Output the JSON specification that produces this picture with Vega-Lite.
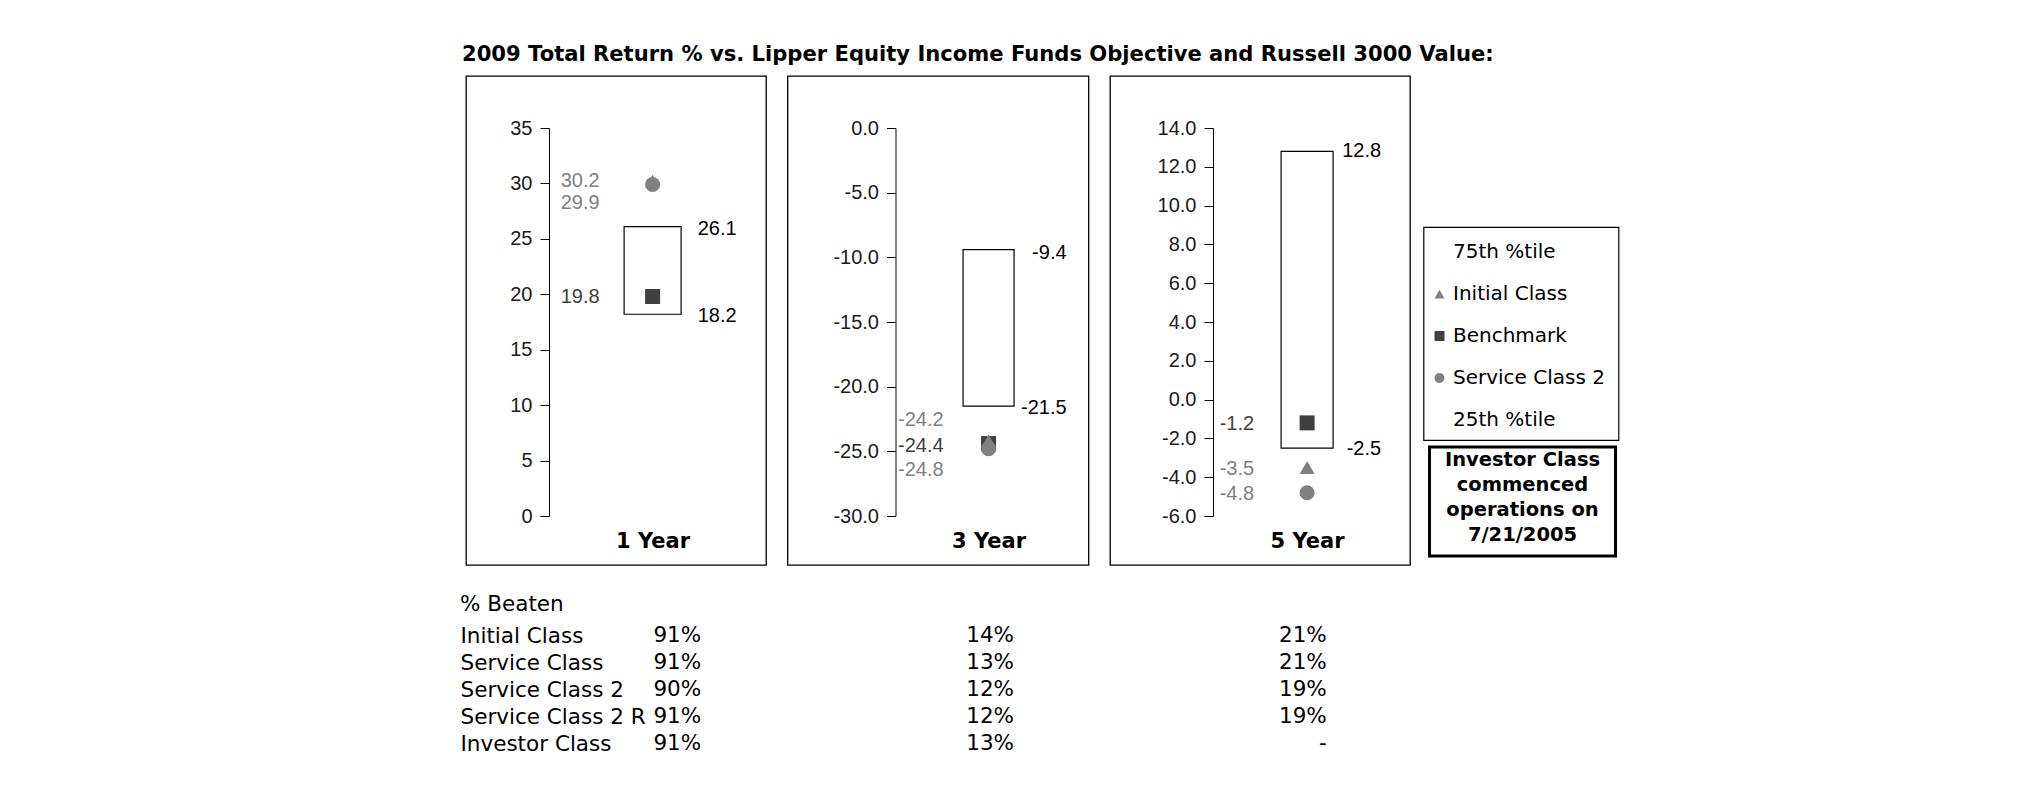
{
  "$schema": "https://vega.github.io/schema/vega-lite/v6.json",
  "background": "white",
  "padding": {"left": 460, "top": 44, "right": 5, "bottom": 5},
  "title": {
    "text": "2009 Total Return % vs. Lipper Equity Income Funds Objective and Russell 3000 Value:",
    "anchor": "start", "frame": "bounds", "font": "DejaVu Sans", "fontSize": 21.1,
    "fontWeight": "bold", "color": "black", "offset": 10, "dx": 2
  },
  "config": {
    "locale": {"number": {"decimal": ".", "thousands": ",", "grouping": [3], "currency": ["$", ""], "minus": "-"}},
    "view": {"stroke": null},
    "axis": {"domainColor": "black", "tickColor": "black", "grid": false, "labelFont": "Liberation Sans", "labelFontSize": 20, "labelColor": "#1a1a1a", "domainWidth": 1, "tickWidth": 1}
  },
  "datasets": {
    "pts": [
      {"period": "1 Year", "series": "Benchmark", "value": 19.8},
      {"period": "1 Year", "series": "Initial Class", "value": 30.2},
      {"period": "1 Year", "series": "Service Class 2", "value": 29.9},
      {"period": "3 Year", "series": "Benchmark", "value": -24.4},
      {"period": "3 Year", "series": "Initial Class", "value": -24.2},
      {"period": "3 Year", "series": "Service Class 2", "value": -24.8},
      {"period": "5 Year", "series": "Benchmark", "value": -1.2},
      {"period": "5 Year", "series": "Initial Class", "value": -3.5},
      {"period": "5 Year", "series": "Service Class 2", "value": -4.8}
    ],
    "boxes": [
      {"period": "1 Year", "p25": 18.2, "p75": 26.1},
      {"period": "3 Year", "p25": -21.5, "p75": -9.4},
      {"period": "5 Year", "p25": -2.5, "p75": 12.8}
    ],
    "table": [
      {"class": "Initial Class", "period": "1 Year", "pct": "91%"},
      {"class": "Initial Class", "period": "3 Year", "pct": "14%"},
      {"class": "Initial Class", "period": "5 Year", "pct": "21%"},
      {"class": "Service Class", "period": "1 Year", "pct": "91%"},
      {"class": "Service Class", "period": "3 Year", "pct": "13%"},
      {"class": "Service Class", "period": "5 Year", "pct": "21%"},
      {"class": "Service Class 2", "period": "1 Year", "pct": "90%"},
      {"class": "Service Class 2", "period": "3 Year", "pct": "12%"},
      {"class": "Service Class 2", "period": "5 Year", "pct": "19%"},
      {"class": "Service Class 2 R", "period": "1 Year", "pct": "91%"},
      {"class": "Service Class 2 R", "period": "3 Year", "pct": "12%"},
      {"class": "Service Class 2 R", "period": "5 Year", "pct": "19%"},
      {"class": "Investor Class", "period": "1 Year", "pct": "91%"},
      {"class": "Investor Class", "period": "3 Year", "pct": "13%"},
      {"class": "Investor Class", "period": "5 Year", "pct": "-"}
    ],
    "legend": [
      {"entry": "75th %tile"},
      {"entry": "Initial Class"},
      {"entry": "Benchmark"},
      {"entry": "Service Class 2"},
      {"entry": "25th %tile"}
    ]
  },
  "spacing": 27,
  "vconcat": [
    {
      "spacing": 19.5,
      "hconcat": [
        {
          "width": 300, "height": 489,
          "view": {"stroke": "black", "strokeWidth": 1.3},
          "encoding": {
            "x": {"field": "period", "type": "nominal",
              "scale": {"type": "point", "domain": ["1 Year"], "align": 0.622},
              "axis": {"orient": "bottom", "offset": -24, "domain": false, "ticks": false, "labelPadding": 0, "labelBaseline": "middle", "labelAngle": 0, "labelFont": "DejaVu Sans", "labelFontSize": 21, "labelFontWeight": "bold", "labelColor": "black", "title": null}}
          },
          "layer": [
            {
              "data": {"name": "boxes"},
              "transform": [{"filter": "datum.period == '1 Year'"}],
              "mark": {"type": "bar", "width": 57, "fill": "white", "stroke": "black", "strokeWidth": 1.2},
              "encoding": {
                "y": {"field": "p75", "type": "quantitative",
                  "scale": {"domain": [0, 35], "range": [440, 52], "nice": false, "zero": false},
                  "axis": {"orient": "left", "offset": -83, "values": [0, 5, 10, 15, 20, 25, 30, 35], "format": "d", "title": null, "tickSize": 9, "labelPadding": 8}},
                "y2": {"field": "p25"}
              }
            },
            {
              "data": {"name": "pts"},
              "transform": [{"filter": "datum.period == '1 Year'"}],
              "mark": {"type": "point", "filled": true, "opacity": 1, "size": 225},
              "encoding": {
                "y": {"field": "value", "type": "quantitative", "axis": {"orient": "left", "offset": -83, "values": [0, 5, 10, 15, 20, 25, 30, 35], "format": "d", "title": null, "tickSize": 9, "labelPadding": 8}},
                "shape": {"field": "series", "type": "nominal", "scale": {"domain": ["Initial Class", "Benchmark", "Service Class 2"], "range": ["triangle-up", "square", "circle"]}, "legend": null},
                "color": {"field": "series", "type": "nominal", "scale": {"domain": ["Initial Class", "Benchmark", "Service Class 2"], "range": ["#808080", "#3f3f3f", "#808080"]}, "legend": null}
              }
            },
            {
              "data": {"name": "pts"},
              "transform": [{"filter": "datum.period == '1 Year' && datum.series != 'Service Class 2'"}],
              "mark": {"type": "text", "align": "right", "baseline": "middle", "dx": -53, "font": "Liberation Sans", "fontSize": 20},
              "encoding": {
                "y": {"field": "value", "type": "quantitative", "axis": {"orient": "left", "offset": -83, "values": [0, 5, 10, 15, 20, 25, 30, 35], "format": "d", "title": null, "tickSize": 9, "labelPadding": 8}},
                "text": {"field": "value", "type": "quantitative", "format": ".1f"},
                "color": {"field": "series", "type": "nominal", "scale": {"domain": ["Initial Class", "Benchmark", "Service Class 2"], "range": ["#808080", "#3f3f3f", "#808080"]}, "legend": null}
              }
            },
            {
              "data": {"name": "pts"},
              "transform": [{"filter": "datum.period == '1 Year' && datum.series == 'Service Class 2'"}],
              "mark": {"type": "text", "align": "right", "baseline": "middle", "dx": -53, "dy": 18.5, "font": "Liberation Sans", "fontSize": 20},
              "encoding": {
                "y": {"field": "value", "type": "quantitative", "axis": {"orient": "left", "offset": -83, "values": [0, 5, 10, 15, 20, 25, 30, 35], "format": "d", "title": null, "tickSize": 9, "labelPadding": 8}},
                "text": {"field": "value", "type": "quantitative", "format": ".1f"},
                "color": {"field": "series", "type": "nominal", "scale": {"domain": ["Initial Class", "Benchmark", "Service Class 2"], "range": ["#808080", "#3f3f3f", "#808080"]}, "legend": null}
              }
            },
            {
              "data": {"name": "boxes"},
              "transform": [{"filter": "datum.period == '1 Year'"}],
              "mark": {"type": "text", "align": "right", "baseline": "middle", "dx": 84, "dy": 2, "font": "Liberation Sans", "fontSize": 20, "color": "black"},
              "encoding": {
                "y": {"field": "p75", "type": "quantitative", "axis": {"orient": "left", "offset": -83, "values": [0, 5, 10, 15, 20, 25, 30, 35], "format": "d", "title": null, "tickSize": 9, "labelPadding": 8}},
                "text": {"field": "p75", "type": "quantitative", "format": ".1f"}
              }
            },
            {
              "data": {"name": "boxes"},
              "transform": [{"filter": "datum.period == '1 Year'"}],
              "mark": {"type": "text", "align": "right", "baseline": "middle", "dx": 84, "dy": 2, "font": "Liberation Sans", "fontSize": 20, "color": "black"},
              "encoding": {
                "y": {"field": "p25", "type": "quantitative", "axis": {"orient": "left", "offset": -83, "values": [0, 5, 10, 15, 20, 25, 30, 35], "format": "d", "title": null, "tickSize": 9, "labelPadding": 8}},
                "text": {"field": "p25", "type": "quantitative", "format": ".1f"}
              }
            }
          ]
        },
        {
          "width": 301, "height": 489,
          "view": {"stroke": "black", "strokeWidth": 1.3},
          "encoding": {
            "x": {"field": "period", "type": "nominal",
              "scale": {"type": "point", "domain": ["3 Year"], "align": 0.668},
              "axis": {"orient": "bottom", "offset": -24, "domain": false, "ticks": false, "labelPadding": 0, "labelBaseline": "middle", "labelAngle": 0, "labelFont": "DejaVu Sans", "labelFontSize": 21, "labelFontWeight": "bold", "labelColor": "black", "title": null}}
          },
          "layer": [
            {
              "data": {"name": "boxes"},
              "transform": [{"filter": "datum.period == '3 Year'"}],
              "mark": {"type": "bar", "width": 51, "fill": "white", "stroke": "black", "strokeWidth": 1.2},
              "encoding": {
                "y": {"field": "p75", "type": "quantitative",
                  "scale": {"domain": [-30, 0], "range": [440, 52], "nice": false, "zero": false},
                  "axis": {"orient": "left", "offset": -108, "values": [-30, -25, -20, -15, -10, -5, 0], "format": ".1f", "title": null, "tickSize": 9, "labelPadding": 8}},
                "y2": {"field": "p25"}
              }
            },
            {
              "data": {"name": "pts"},
              "transform": [{"filter": "datum.period == '3 Year'"}],
              "mark": {"type": "point", "filled": true, "opacity": 1, "size": 225},
              "encoding": {
                "y": {"field": "value", "type": "quantitative", "axis": {"orient": "left", "offset": -108, "values": [-30, -25, -20, -15, -10, -5, 0], "format": ".1f", "title": null, "tickSize": 9, "labelPadding": 8}},
                "shape": {"field": "series", "type": "nominal", "scale": {"domain": ["Initial Class", "Benchmark", "Service Class 2"], "range": ["triangle-up", "square", "circle"]}, "legend": null},
                "color": {"field": "series", "type": "nominal", "scale": {"domain": ["Initial Class", "Benchmark", "Service Class 2"], "range": ["#808080", "#3f3f3f", "#808080"]}, "legend": null}
              }
            },
            {
              "data": {"name": "pts"},
              "transform": [{"filter": "datum.period == '3 Year' && datum.series == 'Initial Class'"}],
              "mark": {"type": "text", "align": "right", "baseline": "middle", "dx": -45, "dy": -21, "font": "Liberation Sans", "fontSize": 20},
              "encoding": {
                "y": {"field": "value", "type": "quantitative", "axis": {"orient": "left", "offset": -108, "values": [-30, -25, -20, -15, -10, -5, 0], "format": ".1f", "title": null, "tickSize": 9, "labelPadding": 8}},
                "text": {"field": "value", "type": "quantitative", "format": ".1f"},
                "color": {"field": "series", "type": "nominal", "scale": {"domain": ["Initial Class", "Benchmark", "Service Class 2"], "range": ["#808080", "#3f3f3f", "#808080"]}, "legend": null}
              }
            },
            {
              "data": {"name": "pts"},
              "transform": [{"filter": "datum.period == '3 Year' && datum.series == 'Benchmark'"}],
              "mark": {"type": "text", "align": "right", "baseline": "middle", "dx": -45, "dy": 2, "font": "Liberation Sans", "fontSize": 20},
              "encoding": {
                "y": {"field": "value", "type": "quantitative", "axis": {"orient": "left", "offset": -108, "values": [-30, -25, -20, -15, -10, -5, 0], "format": ".1f", "title": null, "tickSize": 9, "labelPadding": 8}},
                "text": {"field": "value", "type": "quantitative", "format": ".1f"},
                "color": {"field": "series", "type": "nominal", "scale": {"domain": ["Initial Class", "Benchmark", "Service Class 2"], "range": ["#808080", "#3f3f3f", "#808080"]}, "legend": null}
              }
            },
            {
              "data": {"name": "pts"},
              "transform": [{"filter": "datum.period == '3 Year' && datum.series == 'Service Class 2'"}],
              "mark": {"type": "text", "align": "right", "baseline": "middle", "dx": -45, "dy": 21.5, "font": "Liberation Sans", "fontSize": 20},
              "encoding": {
                "y": {"field": "value", "type": "quantitative", "axis": {"orient": "left", "offset": -108, "values": [-30, -25, -20, -15, -10, -5, 0], "format": ".1f", "title": null, "tickSize": 9, "labelPadding": 8}},
                "text": {"field": "value", "type": "quantitative", "format": ".1f"},
                "color": {"field": "series", "type": "nominal", "scale": {"domain": ["Initial Class", "Benchmark", "Service Class 2"], "range": ["#808080", "#3f3f3f", "#808080"]}, "legend": null}
              }
            },
            {
              "data": {"name": "boxes"},
              "transform": [{"filter": "datum.period == '3 Year'"}],
              "mark": {"type": "text", "align": "right", "baseline": "middle", "dx": 78, "dy": 3, "font": "Liberation Sans", "fontSize": 20, "color": "black"},
              "encoding": {
                "y": {"field": "p75", "type": "quantitative", "axis": {"orient": "left", "offset": -108, "values": [-30, -25, -20, -15, -10, -5, 0], "format": ".1f", "title": null, "tickSize": 9, "labelPadding": 8}},
                "text": {"field": "p75", "type": "quantitative", "format": ".1f"}
              }
            },
            {
              "data": {"name": "boxes"},
              "transform": [{"filter": "datum.period == '3 Year'"}],
              "mark": {"type": "text", "align": "right", "baseline": "middle", "dx": 78, "dy": 2, "font": "Liberation Sans", "fontSize": 20, "color": "black"},
              "encoding": {
                "y": {"field": "p25", "type": "quantitative", "axis": {"orient": "left", "offset": -108, "values": [-30, -25, -20, -15, -10, -5, 0], "format": ".1f", "title": null, "tickSize": 9, "labelPadding": 8}},
                "text": {"field": "p25", "type": "quantitative", "format": ".1f"}
              }
            }
          ]
        },
        {
          "spacing": 11.5,
          "hconcat": [
            {
              "width": 300, "height": 489,
              "view": {"stroke": "black", "strokeWidth": 1.3},
              "encoding": {
                "x": {"field": "period", "type": "nominal",
                  "scale": {"type": "point", "domain": ["5 Year"], "align": 0.657},
                  "axis": {"orient": "bottom", "offset": -24, "domain": false, "ticks": false, "labelPadding": 0, "labelBaseline": "middle", "labelAngle": 0, "labelFont": "DejaVu Sans", "labelFontSize": 21, "labelFontWeight": "bold", "labelColor": "black", "title": null}}
              },
              "layer": [
                {
                  "data": {"name": "boxes"},
                  "transform": [{"filter": "datum.period == '5 Year'"}],
                  "mark": {"type": "bar", "width": 52, "fill": "white", "stroke": "black", "strokeWidth": 1.2},
                  "encoding": {
                    "y": {"field": "p75", "type": "quantitative",
                      "scale": {"domain": [-6, 14], "range": [440, 52], "nice": false, "zero": false},
                      "axis": {"orient": "left", "offset": -103, "values": [-6, -4, -2, 0, 2, 4, 6, 8, 10, 12, 14], "format": ".1f", "title": null, "tickSize": 9, "labelPadding": 8}},
                    "y2": {"field": "p25"}
                  }
                },
                {
                  "data": {"name": "pts"},
                  "transform": [{"filter": "datum.period == '5 Year'"}],
                  "mark": {"type": "point", "filled": true, "opacity": 1, "size": 225},
                  "encoding": {
                    "y": {"field": "value", "type": "quantitative", "axis": {"orient": "left", "offset": -103, "values": [-6, -4, -2, 0, 2, 4, 6, 8, 10, 12, 14], "format": ".1f", "title": null, "tickSize": 9, "labelPadding": 8}},
                    "shape": {"field": "series", "type": "nominal", "scale": {"domain": ["Initial Class", "Benchmark", "Service Class 2"], "range": ["triangle-up", "square", "circle"]}, "legend": null},
                    "color": {"field": "series", "type": "nominal", "scale": {"domain": ["Initial Class", "Benchmark", "Service Class 2"], "range": ["#808080", "#3f3f3f", "#808080"]}, "legend": null}
                  }
                },
                {
                  "data": {"name": "pts"},
                  "transform": [{"filter": "datum.period == '5 Year'"}],
                  "mark": {"type": "text", "align": "right", "baseline": "middle", "dx": -53, "dy": 1, "font": "Liberation Sans", "fontSize": 20},
                  "encoding": {
                    "y": {"field": "value", "type": "quantitative", "axis": {"orient": "left", "offset": -103, "values": [-6, -4, -2, 0, 2, 4, 6, 8, 10, 12, 14], "format": ".1f", "title": null, "tickSize": 9, "labelPadding": 8}},
                    "text": {"field": "value", "type": "quantitative", "format": ".1f"},
                    "color": {"field": "series", "type": "nominal", "scale": {"domain": ["Initial Class", "Benchmark", "Service Class 2"], "range": ["#808080", "#3f3f3f", "#808080"]}, "legend": null}
                  }
                },
                {
                  "data": {"name": "boxes"},
                  "transform": [{"filter": "datum.period == '5 Year'"}],
                  "mark": {"type": "text", "align": "right", "baseline": "middle", "dx": 74, "dy": 0, "font": "Liberation Sans", "fontSize": 20, "color": "black"},
                  "encoding": {
                    "y": {"field": "p75", "type": "quantitative", "axis": {"orient": "left", "offset": -103, "values": [-6, -4, -2, 0, 2, 4, 6, 8, 10, 12, 14], "format": ".1f", "title": null, "tickSize": 9, "labelPadding": 8}},
                    "text": {"field": "p75", "type": "quantitative", "format": ".1f"}
                  }
                },
                {
                  "data": {"name": "boxes"},
                  "transform": [{"filter": "datum.period == '5 Year'"}],
                  "mark": {"type": "text", "align": "right", "baseline": "middle", "dx": 74, "dy": 1, "font": "Liberation Sans", "fontSize": 20, "color": "black"},
                  "encoding": {
                    "y": {"field": "p25", "type": "quantitative", "axis": {"orient": "left", "offset": -103, "values": [-6, -4, -2, 0, 2, 4, 6, 8, 10, 12, 14], "format": ".1f", "title": null, "tickSize": 9, "labelPadding": 8}},
                    "text": {"field": "p25", "type": "quantitative", "format": ".1f"}
                  }
                }
              ]
            },
            {
              "spacing": 4,
              "vconcat": [
                {
                  "width": 195, "height": 146,
                  "data": {"values": []},
                  "mark": {"type": "point", "opacity": 0}
                },
                {
                  "width": 195, "height": 213,
                  "view": {"stroke": "black", "strokeWidth": 1.2},
                  "data": {"name": "legend"},
                  "encoding": {
                    "y": {"field": "entry", "type": "nominal", "scale": {"type": "point", "domain": ["75th %tile", "Initial Class", "Benchmark", "Service Class 2", "25th %tile"], "padding": 0.54}, "axis": null}
                  },
                  "layer": [
                    {
                      "transform": [{"filter": {"field": "entry", "oneOf": ["Initial Class", "Benchmark", "Service Class 2"]}}],
                      "mark": {"type": "point", "filled": true, "opacity": 1, "size": 100, "xOffset": -81.5, "yOffset": 2.5},
                      "encoding": {
                        "shape": {"field": "entry", "type": "nominal", "scale": {"domain": ["Initial Class", "Benchmark", "Service Class 2"], "range": ["triangle-up", "square", "circle"]}, "legend": null},
                        "color": {"field": "entry", "type": "nominal", "scale": {"domain": ["Initial Class", "Benchmark", "Service Class 2"], "range": ["#808080", "#3f3f3f", "#808080"]}, "legend": null}
                      }
                    },
                    {
                      "mark": {"type": "text", "align": "left", "baseline": "middle", "dx": -68, "dy": 2.5, "font": "DejaVu Sans", "fontSize": 20, "color": "black"},
                      "encoding": {
                        "text": {"field": "entry"}
                      }
                    }
                  ]
                },
                {
                  "spacing": 3,
                  "hconcat": [
                    {
                      "width": 1, "height": 109,
                      "data": {"values": []},
                      "mark": {"type": "point", "opacity": 0}
                    },
                    {
                      "width": 186, "height": 109,
                      "view": {"stroke": "black", "strokeWidth": 3},
                      "data": {"values": [{"note": "Investor Class\ncommenced\noperations on\n7/21/2005"}]},
                      "mark": {"type": "text", "lineBreak": "\n", "font": "DejaVu Sans", "fontWeight": "bold", "fontSize": 19.5, "lineHeight": 25, "align": "center", "baseline": "middle", "dy": -42, "color": "black"},
                      "encoding": {"text": {"field": "note"}}
                    }
                  ]
                }
              ]
            }
          ]
        }
      ]
    },
    {
      "width": 1096, "height": 108,
      "data": {"name": "table"},
      "title": {"text": "% Beaten", "anchor": "start", "frame": "bounds", "font": "DejaVu Sans", "fontSize": 21.5, "fontWeight": "normal", "color": "black", "offset": 10},
      "mark": {"type": "text", "align": "right", "baseline": "middle", "font": "DejaVu Sans", "fontSize": 21.5, "color": "black"},
      "encoding": {
        "x": {"field": "period", "type": "nominal", "scale": {"type": "point", "domain": ["1 Year", "3 Year", "5 Year"], "padding": 0.752}, "axis": null},
        "y": {"field": "class", "type": "nominal",
          "scale": {"type": "point", "domain": ["Initial Class", "Service Class", "Service Class 2", "Service Class 2 R", "Investor Class"], "padding": 0},
          "axis": {"orient": "left", "domain": false, "ticks": false, "tickSize": 0, "labelPadding": 6, "labelAlign": "left", "labelBaseline": "middle", "labelLimit": 0, "labelFont": "DejaVu Sans", "labelFontSize": 21.5, "labelColor": "black", "title": null}},
        "text": {"field": "pct"}
      }
    }
  ]
}
